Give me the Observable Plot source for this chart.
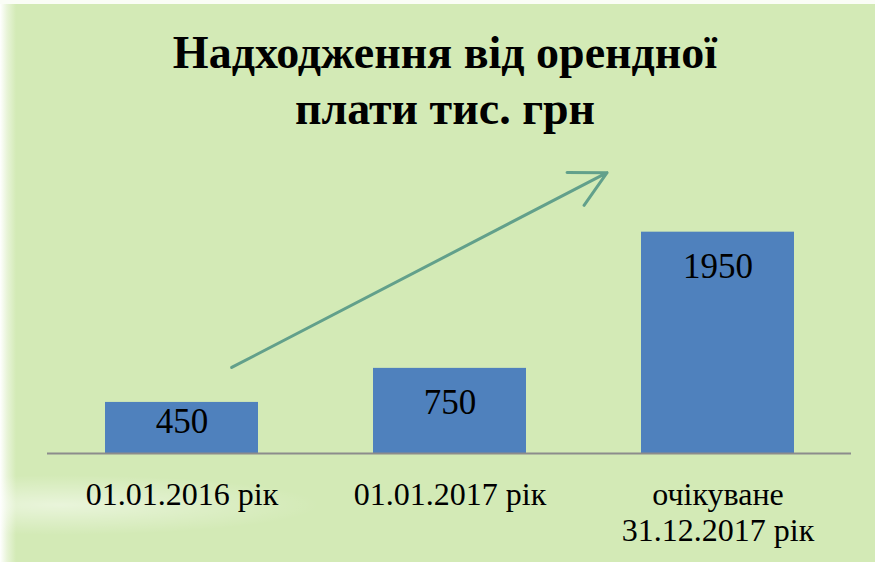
<!DOCTYPE html>
<html>
<head>
<meta charset="utf-8">
<script src="https://cdn.jsdelivr.net/npm/d3@7"></script>
<script src="https://cdn.jsdelivr.net/npm/@observablehq/plot@0.6"></script>
<style>
  html, body { margin: 0; padding: 0; background: #ffffff; }
  #wrap {
    position: relative; width: 875px; height: 562px; overflow: hidden;
    background:
      radial-gradient(ellipse 260px 30px at 60px 505px, rgba(255,255,255,0.5), rgba(255,255,255,0) 100%),
      linear-gradient(90deg, #ffffff 0px, #e8f4d8 7px, #d3eab6 16px, #d3eab6 100%);
  }
  #wrap::before {
    content: ""; position: absolute; left: 0; top: 0; width: 875px; height: 4px; background: #fafdf6;
  }
  #title {
    position: absolute; left: 0; top: 25px; width: 875px; text-align: center;
    font-family: "Liberation Serif", Tinos, "Times New Roman", "DejaVu Serif", serif; font-weight: bold;
    font-size: 46px; line-height: 56px; color: #000;
    padding-left: 15px; box-sizing: border-box;
  }
  #chart { position: absolute; left: 0; top: 0; }
</style>
</head>
<body>
<div id="wrap">
  <div id="chart"></div>
  <div id="title">Надходження від орендної<br>плати тис. грн</div>
</div>
<script>
// Data
const categories = ["01.01.2016 рік", "01.01.2017 рік", "очікуване\n31.12.2017 рік"];
const values = [450, 750, 1950];
// Decorative trend arrow (data space): from first to last category
const arrowFrom = [categories[0]];
const arrowTo = [categories[2]];
const arrowY1 = [531];
const arrowY2 = [2982];

const rows = categories.map((c, i) => ({category: c, value: values[i]}));
const arrowRows = arrowFrom.map((c, i) => ({x1: c, x2: arrowTo[i], y1: arrowY1[i], y2: arrowY2[i]}));

const serif = "Liberation Serif, Tinos, Times New Roman, DejaVu Serif, serif";

const chart = Plot.plot({
  width: 875,
  height: 562,
  marginLeft: 47,
  marginRight: 24,
  marginTop: 226,
  marginBottom: 109,
  style: {background: "transparent", fontFamily: serif, overflow: "visible"},
  x: {domain: categories, paddingInner: 0.43, paddingOuter: 0.215, label: null},
  y: {domain: [0, 2000], axis: null},
  marks: [
    Plot.barY(rows, {x: "category", y: "value", fill: "#4f81bd"}),
    Plot.ruleY([0], {stroke: "#8c8c8c", strokeWidth: 2}),
    Plot.axisX({
      tickSize: 0, tickPadding: 26, fontSize: 32, lineHeight: 1.125,
      fill: "#000", fontFamily: serif, label: null
    }),
    Plot.text(rows.filter(d => d.value >= 600), {
      x: "category", y: "value", text: d => String(d.value),
      dy: 46, lineAnchor: "bottom", fontSize: 35, fill: "#000", fontFamily: serif
    }),
    Plot.text(rows.filter(d => d.value < 600), {
      x: "category", y: "value", text: d => String(d.value),
      dy: 31, lineAnchor: "bottom", fontSize: 35, fill: "#000", fontFamily: serif
    }),
    Plot.arrow(arrowRows, {
      x1: "x1", x2: "x2", y1: "y1", y2: "y2",
      insetStart: 56, insetEnd: 125,
      stroke: "#62a08b", strokeWidth: 3, headAngle: 55, headLength: 20, bend: 0
    })
  ]
});
document.getElementById("chart").appendChild(chart);
</script>
</body>
</html>
